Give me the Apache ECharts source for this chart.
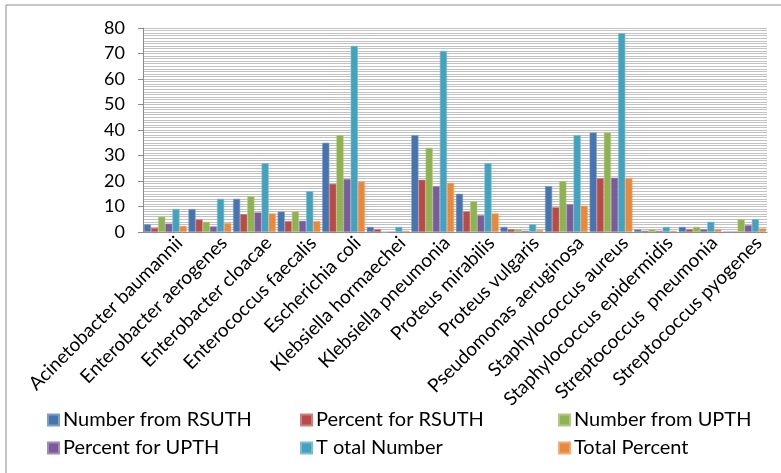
<!DOCTYPE html>
<html>
<head>
<meta charset="utf-8">
<script src="https://cdn.jsdelivr.net/npm/echarts@6/dist/echarts.min.js"></script>
<style>html,body{margin:0;padding:0;background:#fff;}#c{width:781px;height:473px;}</style>
</head>
<body>
<div id="c"></div>
<script>
var categories = ["Acinetobacter baumannii","Enterobacter aerogenes","Enterobacter cloacae","Enterococcus faecalis","Escherichia coli","Klebsiella hormaechei","Klebsiella pneumonia","Proteus mirabilis","Proteus vulgaris","Pseudomonas aeruginosa","Staphylococcus aureus","Staphylococcus epidermidis","Streptococcus  pneumonia","Streptococcus pyogenes"];
var numberRSUTH  = [3, 9, 13, 8, 35, 2, 38, 15, 2, 18, 39, 1, 2, 0];
var percentRSUTH = [1.6, 4.9, 7.0, 4.3, 18.9, 1.1, 20.5, 8.1, 1.1, 9.7, 21.1, 0.5, 1.1, 0];
var numberUPTH   = [6, 4, 14, 8, 38, 0, 33, 12, 1, 20, 39, 1, 2, 5];
var percentUPTH  = [3.3, 2.2, 7.7, 4.4, 20.8, 0, 18.0, 6.6, 0.5, 10.9, 21.3, 0.5, 1.1, 2.7];
var totalNumber  = [9, 13, 27, 16, 73, 2, 71, 27, 3, 38, 78, 2, 4, 5];
var totalPercent = [2.4, 3.5, 7.3, 4.3, 19.8, 0.5, 19.3, 7.3, 0.8, 10.3, 21.2, 0.5, 1.1, 1.4];
var seriesNames = ["Number from RSUTH","Percent for RSUTH","Number from UPTH","Percent for UPTH","T otal Number","Total Percent"];
var seriesData = [numberRSUTH, percentRSUTH, numberUPTH, percentUPTH, totalNumber, totalPercent];
var colors = ["#4674ae","#b94a48","#8fb350","#7a5c9b","#43a3be","#ea883b"];
var yTicks = [0, 80, 10];
var gridStep = 1;

var FONT = "Lato";
var legendPos = [[47,410],[300,410],[558,410],[47,438],[300,438],[558,438]];
var legends = seriesNames.map(function(n,i){
  return {data:[n], left:legendPos[i][0], top:legendPos[i][1], padding:0,
    itemWidth:11, itemHeight:11, itemGap:0, icon:'rect',
    textStyle:{fontFamily:FONT, fontSize:20, color:'#000', padding:[0,0,0,-1]}};
});

var chart = echarts.init(document.getElementById('c'));
chart.setOption({
  animation:false,
  color: colors,
  graphic:[{type:'rect', shape:{x:6,y:5,width:900,height:600}, style:{fill:'none', stroke:'#8c8c8c', lineWidth:1}}],
  legend: legends,
  grid:{left:143, right:14, top:28, bottom:241},
  xAxis:{type:'category', data:categories,
    axisLine:{lineStyle:{color:'#8c8c8c'}},
    axisTick:{length:5, lineStyle:{color:'#8c8c8c'}},
    axisLabel:{rotate:45, interval:0, fontFamily:FONT, fontSize:19, color:'#000', margin:22, padding:[0,-20,0,0]}},
  yAxis:[{type:'value', min:yTicks[0], max:yTicks[1], interval:yTicks[2],
    axisLine:{show:true, lineStyle:{color:'#8c8c8c'}},
    axisTick:{show:true, length:5, lineStyle:{color:'#8c8c8c'}},
    axisLabel:{fontFamily:FONT, fontSize:18, color:'#000', margin:18},
    splitLine:{show:false}},
   {type:'value', min:yTicks[0], max:yTicks[1], interval:gridStep, position:'left',
    axisLine:{show:false}, axisTick:{show:false}, axisLabel:{show:false},
    splitLine:{show:true, lineStyle:{color:'#c2c2c2', width:1}}}],
  series: seriesData.map(function(d,i){
    return {name:seriesNames[i], type:'bar', data:d, barGap:'0%', barCategoryGap:'4%', z:3,
      itemStyle:{color:colors[i], borderColor:echarts.color.lift(colors[i], 0.3), borderWidth:0.6}};
  })
});
</script>
</body>
</html>
